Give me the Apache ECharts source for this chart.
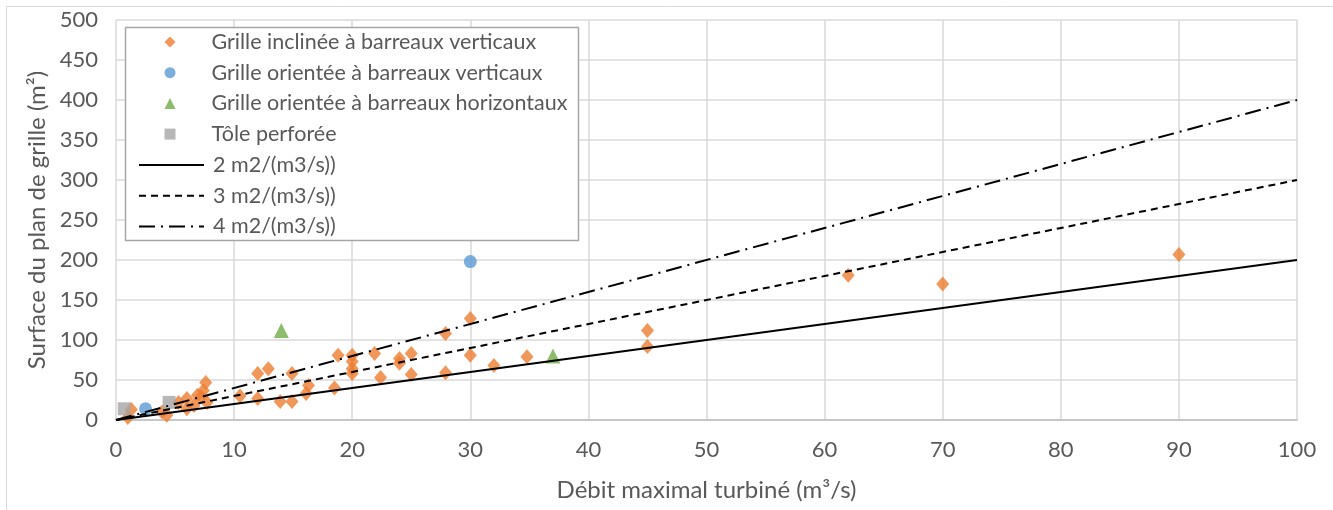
<!DOCTYPE html>
<html>
<head>
<meta charset="utf-8">
<script src="https://cdn.jsdelivr.net/npm/echarts@6/dist/echarts.min.js"></script>
<style>
  html, body { margin: 0; padding: 0; background: #fff; }
  #chart { width: 1333px; height: 510px; }
</style>
</head>
<body>
<div id="chart"></div>
<script>
// series names
var names = [
    'Grille inclinée à barreaux verticaux',
    'Grille orientée à barreaux verticaux',
    'Grille orientée à barreaux horizontaux',
    'Tôle perforée',
    '2 m2/(m3/s))',
    '3 m2/(m3/s))',
    '4 m2/(m3/s))'
];

// [débit, surface]
var inclineeVert = [
    [1.0, 3], [1.3, 13], [3.9, 10], [4.3, 6], [5.3, 22], [6.0, 27], [6.0, 14],
    [6.6, 18], [6.9, 31], [7.2, 29], [7.4, 37], [7.6, 47], [7.7, 22],
    [10.5, 30], [12, 58], [12.9, 64], [12, 27], [13.9, 23], [14.9, 23], [14.9, 58],
    [16.1, 33], [16.3, 43], [18.5, 40], [18.8, 81], [20, 81], [20, 73], [20, 64],
    [20, 58], [21.9, 83], [22.4, 53], [24, 77], [24, 71], [25, 83], [25, 57],
    [27.9, 108], [27.9, 59], [30, 127], [30, 81], [32, 68], [34.8, 79],
    [45, 112], [45, 92], [62, 181], [70, 170], [90, 207]
];
var orienteeVert = [[2.5, 14], [30, 198]];
var orienteeHoriz = [[14, 112], [37, 80]];
var tolePerforee = [[0.7, 14], [4.5, 22]];

// reference ratios (m2 per m3/s), drawn from 0 to 100
var ratios = [2, 3, 4];
var lineX = [0, 100];

var xTicks = { min: 0, max: 100, interval: 10 };
var yTicks = { min: 0, max: 500, interval: 50 };

function ratioLine(r) {
    return lineX.map(function(x) { return [x, x * r]; });
}

var chart = echarts.init(document.getElementById('chart'));
var txt = '#595959';
var font = 'Lato';
var legendText = { color: txt, fontSize: 21.5, fontFamily: font, lineHeight: 24 };

var option = {
    animation: false,
    textStyle: { fontFamily: font },
    graphic: [{
        type: 'rect',
        silent: true,
        shape: { x: 6.5, y: 6.5, width: 1400, height: 600 },
        style: { fill: 'none', stroke: '#d9d9d9', lineWidth: 1 }
    }, {
        // legend frame
        type: 'rect',
        silent: true,
        z: 3,
        shape: { x: 125.5, y: 27.5, width: 453, height: 213 },
        style: { fill: '#fff', stroke: '#a6a6a6', lineWidth: 1.5 }
    }],
    grid: { left: 116, right: 36, top: 20, bottom: 90 },
    legend: [{
        orient: 'vertical',
        left: 164.5,
        top: 30,
        padding: 0,
        itemWidth: 11,
        itemHeight: 11,
        itemGap: 6.7,
        data: names.slice(0, 4),
        textStyle: Object.assign({ padding: [0, 0, 0, 31] }, legendText)
    }, {
        orient: 'vertical',
        left: 138,
        top: 153,
        padding: 0,
        itemWidth: 65,
        itemHeight: 11,
        itemGap: 6.7,
        itemStyle: { opacity: 0 },
        data: names.slice(4),
        textStyle: Object.assign({ padding: [0, 0, 0, 4] }, legendText)
    }],
    xAxis: {
        type: 'value',
        min: xTicks.min, max: xTicks.max, interval: xTicks.interval,
        name: 'Débit maximal turbiné (m³/s)',
        nameLocation: 'middle',
        nameGap: 58,
        nameTextStyle: { color: txt, fontSize: 24, fontFamily: font },
        axisLine: { lineStyle: { color: '#bfbfbf', width: 1.5 } },
        axisTick: { show: false },
        axisLabel: { color: txt, fontSize: 22, margin: 19, fontFamily: font },
        splitLine: { lineStyle: { color: '#d9d9d9', width: 1.5 } }
    },
    yAxis: {
        type: 'value',
        min: yTicks.min, max: yTicks.max, interval: yTicks.interval,
        name: 'Surface du plan de grille (m²)',
        nameLocation: 'middle',
        nameGap: 66,
        nameTextStyle: { color: txt, fontSize: 24, fontFamily: font },
        axisLine: { show: false },
        axisTick: { show: false },
        axisLabel: { color: txt, fontSize: 22, margin: 18, fontFamily: font },
        splitLine: { lineStyle: { color: '#d9d9d9', width: 1.5 } }
    },
    series: [{
        name: names[0], type: 'scatter', data: inclineeVert,
        symbol: 'diamond', symbolSize: [13, 15],
        itemStyle: { color: '#ED7D31' }
    }, {
        name: names[1], type: 'scatter', data: orienteeVert,
        symbol: 'circle', symbolSize: 13,
        itemStyle: { color: '#5B9BD5' }
    }, {
        name: names[2], type: 'scatter', data: orienteeHoriz,
        symbol: 'triangle', symbolSize: 15,
        itemStyle: { color: '#70AD47' }
    }, {
        name: names[3], type: 'scatter', data: tolePerforee,
        symbol: 'rect', symbolSize: 13,
        itemStyle: { color: '#A5A5A5' }
    }, {
        name: names[4], type: 'line', data: ratioLine(ratios[0]),
        symbol: 'none', color: '#000',
        lineStyle: { color: '#000', width: 2, type: 'solid' }
    }, {
        name: names[5], type: 'line', data: ratioLine(ratios[1]),
        symbol: 'none', color: '#000',
        lineStyle: { color: '#000', width: 2, type: [7, 5] }
    }, {
        name: names[6], type: 'line', data: ratioLine(ratios[2]),
        symbol: 'none', color: '#000',
        lineStyle: { color: '#000', width: 2, type: [16, 6, 2, 6] }
    }]
};
chart.setOption(option);
</script>
</body>
</html>
